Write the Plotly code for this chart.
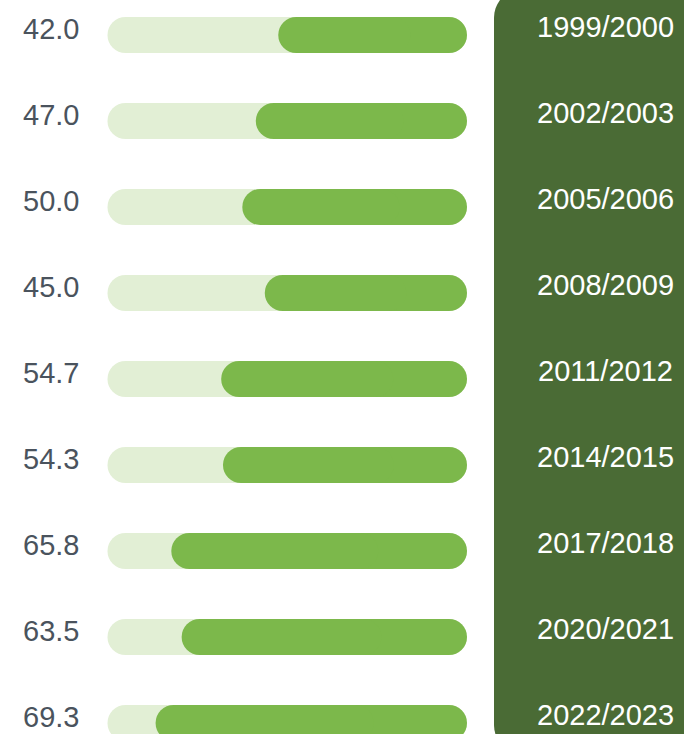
import plotly.graph_objects as go

# ---- data ----
years = ["1999/2000", "2002/2003", "2005/2006", "2008/2009", "2011/2012",
         "2014/2015", "2017/2018", "2020/2021", "2022/2023"]
values = [42.0, 47.0, 50.0, 45.0, 54.7, 54.3, 65.8, 63.5, 69.3]
value_labels = [f"{v:.1f}" for v in values]
scale_max = 80  # full length of the background track

# ---- styles ----
TRACK = "#e2efd5"
FILL = "#7cb84b"
PANEL = "#4a6b35"
LABEL = "#4a535d"
FONT = "Liberation Sans, Arial, sans-serif"
BAR_W = 36 / 86  # 36 px thick bars, rows 86 px apart
RADIUS = 18
SPLIT = 0.7  # each half covers this share of the bar, so the halves overlap

fig = go.Figure()


def rounded_bar(vals, color):
    # two overlapping halves so that both ends get rounded caps
    fig.add_trace(go.Bar(
        y=years, x=[-SPLIT * v for v in vals], base=[SPLIT * v for v in vals],
        orientation="h", width=BAR_W,
        marker=dict(color=color, cornerradius=RADIUS, line=dict(width=0, color=color)),
        hoverinfo="skip", showlegend=False))
    fig.add_trace(go.Bar(
        y=years, x=[SPLIT * v for v in vals], base=[(1 - SPLIT) * v for v in vals],
        orientation="h", width=BAR_W,
        marker=dict(color=color, cornerradius=RADIUS, line=dict(width=0, color=color)),
        hoverinfo="skip", showlegend=False))


rounded_bar([scale_max] * len(years), TRACK)
rounded_bar(values, FILL)

# value labels on the left
for yr, lab in zip(years, value_labels):
    fig.add_annotation(x=0.074, xref="paper", y=yr, yref="y", text=lab,
                       showarrow=False, xanchor="center", yanchor="middle", yshift=6,
                       font=dict(family=FONT, size=29, color=LABEL))
# year labels inside the panel
for yr in years:
    fig.add_annotation(x=0.885, xref="paper", y=yr, yref="y", text=yr,
                       showarrow=False, xanchor="center", yanchor="middle", yshift=8,
                       font=dict(family=FONT, size=29, color="white"))

# dark panel on the right (rounded left corners)
W, H = 684, 734
x0 = 494 / W
x1 = 1.1
ytop = 1 + 12 / H
ybot = -21 / H
rx = 30 / W
ry = 30 / H
k = 0.448
path = (f"M {x0+rx},{ytop} L {x1},{ytop} L {x1},{ybot} L {x0+rx},{ybot} "
        f"C {x0+rx*k},{ybot} {x0},{ybot+ry*k} {x0},{ybot+ry} "
        f"L {x0},{ytop-ry} "
        f"C {x0},{ytop-ry*k} {x0+rx*k},{ytop} {x0+rx},{ytop} Z")
fig.add_shape(type="path", path=path, xref="paper", yref="paper",
              fillcolor=PANEL, line=dict(width=0), layer="below")

fig.update_layout(
    width=W, height=H, margin=dict(l=0, r=0, t=0, b=0),
    paper_bgcolor="white", plot_bgcolor="white",
    barmode="overlay",
    xaxis=dict(range=[103.92, -48.29], visible=False, fixedrange=True),
    yaxis=dict(type="category", categoryorder="array", categoryarray=years,
               range=[8.1279, -0.40698], visible=False, fixedrange=True),
)

fig.write_html("out.html", config={"displayModeBar": False},
               post_script="document.body.style.margin='0';document.body.style.overflow='hidden';")
